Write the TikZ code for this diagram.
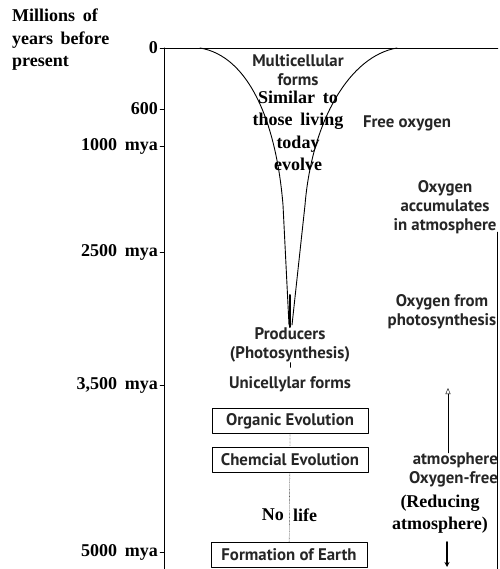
\documentclass[tikz,border=0pt]{standalone}
\usepackage{fontspec}
\setmainfont{Liberation Serif}
\newfontfamily\scanfont{PT Sans}
\usetikzlibrary{arrows.meta}
\newcommand\labelfont{\fontsize{18}{22.5}\selectfont\bfseries\spaceskip=0.42em\relax}
\tikzset{
  scan/.style={font=\fontsize{16.8}{19}\selectfont\scanfont\bfseries, text=black!85, align=center, inner sep=0pt},
  evobox/.style={scan, draw=black, line width=1pt, minimum width=156pt, minimum height=25pt}
}
\begin{document}
\begin{tikzpicture}[x=1pt, y=-1pt, font=\labelfont, line join=round, line cap=round, >=stealth]
            \useasboundingbox (0,0) rectangle (499,569);
            \path
            (164,48) coordinate (O)
            (164,569) coordinate (Ob)
            (498,48) coordinate (R)
            (497,232) coordinate (Rt)
            (497,569) coordinate (Rb)
            (448,453) coordinate (upend)
            (448,388) coordinate (uptip)
            (447,542) coordinate (downend)
            (447,567) coordinate (downtip);
            \draw[line width=1pt] (O)--(Ob);
            \draw (O)--(R) (Rt)--(Rb);
            \node[align=left, anchor=north west, inner sep=0pt] (title) at (12,9) {Millions of\\years before\\present};
            \foreach \y/\t in {48/0,109/600,146/1000 mya,252/2500 mya,385/{3,500 mya},552/5000 mya}
            \draw (164,\y)--(160,\y) node[left, inner sep=2pt] (lab\y) {\t};
            % funnel of multicellular life
            \draw[line width=0.9pt] (200,48) .. controls (248,56) and (276,120) .. (283,205) -- (289,325);
            \draw[line width=0.9pt] (397,48) .. controls (350,56) and (312,120) .. (305,205) -- (292,325);
            \draw[line width=2pt] (290,295)--(290,327);
            \node[scan] (multi) at (298,70) {Multicellular\\forms};
            \node[align=center, inner sep=0pt] (similar) at (298,131) {Similar to\\those living\\today\\evolve};
            \node[scan] (prod) at (290,345) {Producers\\(Photosynthesis)};
            \node[scan] (uni) at (290,384) {Unicellylar forms};
            \draw (prod.south)--++(0,5);
            \node[evobox] (org) at (290,421) {Organic Evolution};
            \node[evobox] (chem) at (290,459.5) {Chemcial Evolution};
            \node[evobox] (earth) at (289,555) {Formation of Earth};
            \draw[densely dotted] (org)--(chem) (chem)--(earth);
            \node[anchor=east, inner sep=0pt] (no) at (284,515) {No};
            \node[anchor=west, inner sep=0pt] (life) at (293,515) {life};
            % atmosphere side
            \node[scan] (free) at (407,123) {Free oxygen};
            \node[scan] (accum) at (445,207) {Oxygen\\accumulates\\in atmosphere};
            \node[scan] (photo) at (442,312) {Oxygen from\\photosynthesis};
            \node[scan, align=right, anchor=east] (ofree) at (498,470) {atmosphere\\Oxygen-free};
            \node[align=center, inner sep=0pt] (reduce) at (440,514) {(Reducing\\atmosphere)};
            \draw[-{Triangle[open, length=6pt, width=5pt]}] (upend)--(uptip);
            \draw[line width=1.6pt, -{Stealth[length=5pt, width=5pt]}] (downend)--(downtip);
    \end{tikzpicture}
\end{document}
